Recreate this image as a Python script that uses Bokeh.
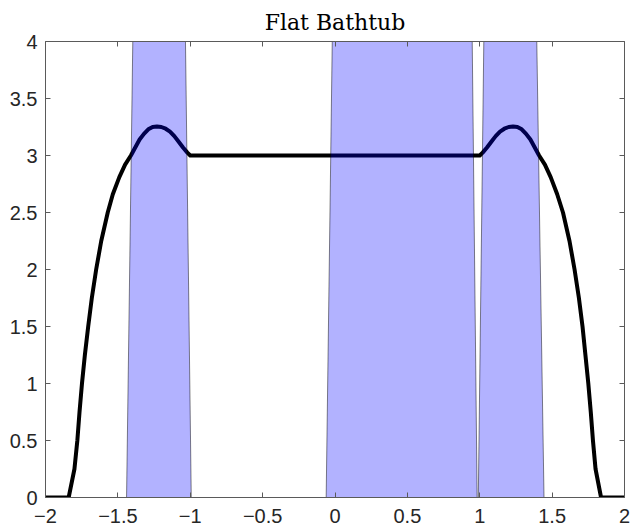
from bokeh.plotting import figure
from bokeh.models import Range1d, LinearAxis, FixedTicker, CustomJSTickFormatter
from bokeh.embed import file_html
from bokeh.resources import INLINE

# Curve
curve_x = [-2.0, -1.84, -1.80, -1.78, -1.765, -1.748, -1.728, -1.705, -1.68, -1.65,
           -1.615, -1.57, -1.535, -1.49, -1.45, -1.41, -1.38, -1.35, -1.32, -1.29,
           -1.26, -1.23, -1.20, -1.17, -1.14, -1.11, -1.08, -1.05, -1.02, -1.0,
           1.0, 1.02, 1.05, 1.08, 1.11, 1.14, 1.17, 1.20, 1.23, 1.26,
           1.29, 1.32, 1.35, 1.38, 1.41, 1.45, 1.49, 1.535, 1.575, 1.62,
           1.655, 1.685, 1.71, 1.73, 1.75, 1.767, 1.782, 1.80, 1.838, 2.0]
curve_y = [0.0, 0.0, 0.25, 0.5, 0.75, 1.0, 1.25, 1.5, 1.75, 2.0,
           2.25, 2.5, 2.66, 2.81, 2.92, 3.0, 3.07, 3.14, 3.19, 3.23,
           3.25, 3.254, 3.25, 3.235, 3.21, 3.17, 3.12, 3.07, 3.025, 3.0,
           3.0, 3.025, 3.07, 3.12, 3.17, 3.21, 3.235, 3.25, 3.254, 3.25,
           3.23, 3.19, 3.14, 3.07, 3.0, 2.92, 2.81, 2.66, 2.5, 2.25,
           2.0, 1.75, 1.5, 1.25, 1.0, 0.75, 0.5, 0.25, 0.0, 0.0]

# Shaded bands (corners: bottom-left, bottom-right, top-right, top-left)
band_bottom_left = [-1.44, -0.061, 0.99]
band_bottom_right = [-0.993, 0.982, 1.444]
band_top_right = [-1.033, 0.948, 1.394]
band_top_left = [-1.397, -0.019, 1.028]
band_y_low = 0.0
band_y_high = 4.0

x_ticks = [-2, -1.5, -1, -0.5, 0, 0.5, 1, 1.5, 2]
y_ticks = [0, 0.5, 1, 1.5, 2, 2.5, 3, 3.5, 4]

p = figure(width=630, height=527, output_backend="svg", toolbar_location=None,
           x_range=Range1d(-2, 2), y_range=Range1d(0, 4),
           min_border_left=45, min_border_right=6, min_border_top=41, min_border_bottom=30)
p.title.text = "Flat Bathtub"
p.title.align = "center"
p.title.text_font = "DejaVu Serif"
p.title.text_font_size = "22px"
p.title.text_font_style = "normal"
p.title.text_color = "#000000"
p.title.standoff = 14
p.xgrid.visible = False
p.ygrid.visible = False
p.outline_line_color = None
p.background_fill_color = "white"
p.border_fill_color = "white"

p.line(curve_x, curve_y, line_color="black", line_width=4, line_join="round")

xs = [[bl, br, tr, tl] for bl, br, tr, tl in zip(band_bottom_left, band_bottom_right, band_top_right, band_top_left)]
ys = [[band_y_low, band_y_low, band_y_high, band_y_high] for _ in band_bottom_left]
p.patches(xs, ys, fill_color="blue", fill_alpha=0.3, line_color="black", line_width=0.6, line_alpha=0.8)

axis_color = "#5a5a5a"
label_color = "#262626"

def style(ax, ticks, labels=True):
    ax.ticker = FixedTicker(ticks=ticks)
    ax.axis_line_color = axis_color
    ax.axis_line_width = 1
    ax.major_tick_line_color = axis_color
    ax.major_tick_in = 5
    ax.major_tick_out = 0
    ax.minor_tick_line_color = None
    ax.major_label_text_font = "Liberation Sans"
    ax.major_label_text_font_size = "20px"
    ax.major_label_text_color = label_color
    if not labels:
        ax.formatter = CustomJSTickFormatter(code="return ''")
        ax.major_label_standoff = 0
        ax.major_label_text_font_size = "1px"

style(p.xaxis[0], x_ticks)
p.xaxis[0].major_label_standoff = 11
style(p.yaxis[0], y_ticks)
p.yaxis[0].major_label_standoff = 8

top = LinearAxis()
style(top, x_ticks, labels=False)
p.add_layout(top, "above")
right = LinearAxis()
style(right, y_ticks, labels=False)
p.add_layout(right, "right")

open("out.html", "w").write(file_html(p, INLINE))
